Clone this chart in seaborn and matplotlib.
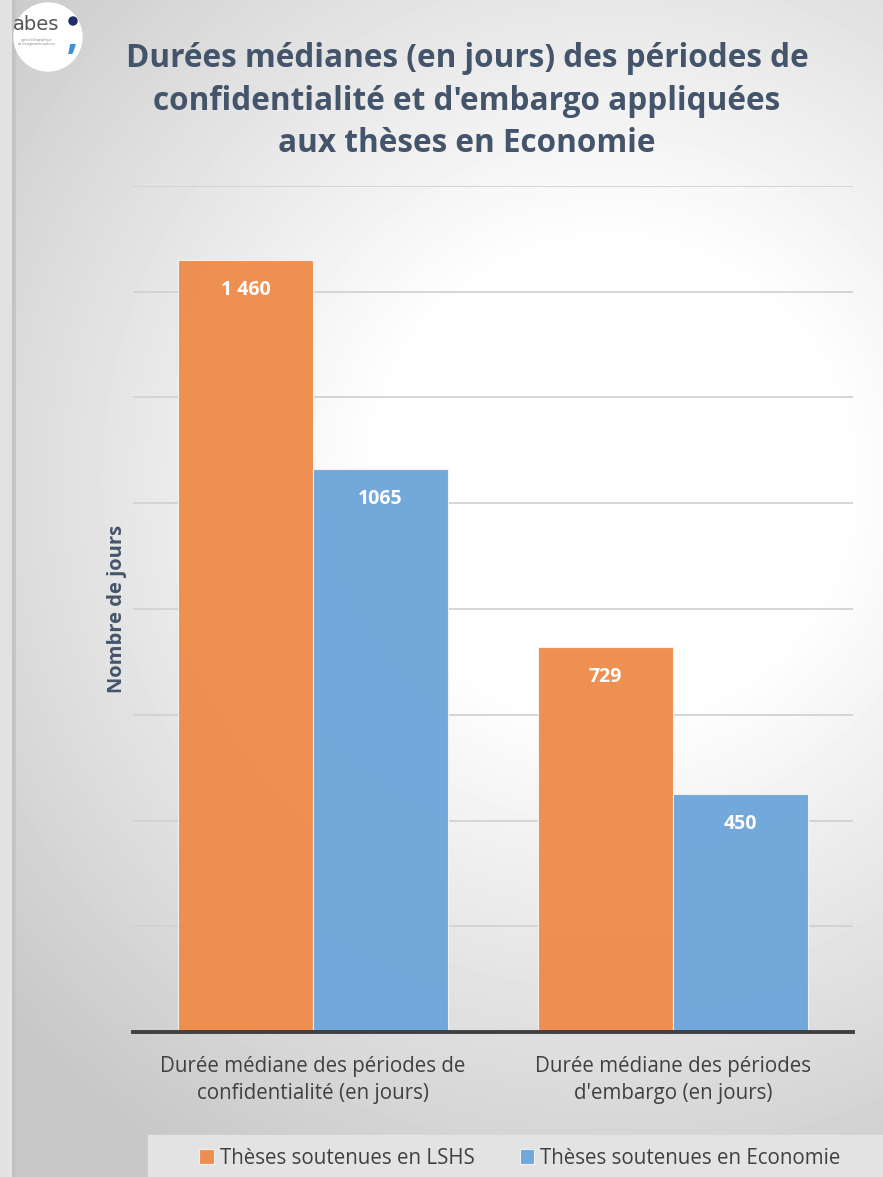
import numpy as np
import pandas as pd
import matplotlib
matplotlib.use("Agg")
import matplotlib.pyplot as plt
from matplotlib.patches import Circle, Rectangle
import seaborn as sns

# data
categories = [
    "Durée médiane des périodes de\nconfidentialité (en jours)",
    "Durée médiane des périodes\nd'embargo (en jours)",
]
series_names = ["Thèses soutenues en LSHS", "Thèses soutenues en Economie"]
lshs_days = [1460, 729]
eco_days = [1065, 450]
lshs_labels = ["1 460", "729"]
eco_labels = ["1065", "450"]

title = ("Durées médianes (en jours) des périodes de\n"
         "confidentialité et d'embargo appliquées\n"
         "aux thèses en Economie")

ORANGE = "#EE8C4A"
BLUE = "#6DA5DA"
SLATE = "#44546A"
TEXT = "#404040"

W, H = 883, 1177

sns.set_theme(style="white")
plt.rcParams['font.family'] = ['Open Sans', 'DejaVu Sans']

fig = plt.figure(figsize=(W / 100, H / 100), dpi=100)

# background: radial grey gradient, pixel coordinates
bg = fig.add_axes([0, 0, 1, 1])
yy, xx = np.mgrid[0:H, 0:W]
d = np.hypot(xx - 610, yy - 480)
shade = 1 - 0.22 * np.clip((d - 230) / 580, 0, 1)
bg.imshow(shade, cmap="gray", vmin=0, vmax=1, extent=(0, W, H, 0),
          aspect="auto", interpolation="bilinear")
bg.set_xlim(0, W)
bg.set_ylim(H, 0)
bg.axis("off")

# left frame strip
bg.add_patch(Rectangle((0, 0), 12, H, color="#E2E2E2", zorder=2))
bg.plot([12.5, 12.5], [0, H], color="#BDBDBD", lw=1.2, zorder=3)
bg.plot([15, 15], [0, H], color="#C4C4C4", lw=1.2, zorder=3)

# logo
bg.add_patch(Circle((48, 37), 34, color="white", zorder=3))
bg.text(36, 25, "abes", fontsize=14, color="#555555", ha="center",
        va="center", family="Liberation Sans Narrow", zorder=4)
bg.text(36, 42, "agence bibliographique\nde l'enseignement supérieur",
        fontsize=2, color="#777777", ha="center", va="center", zorder=4)
bg.add_patch(Circle((73, 21), 4, color="#1F2D6B", zorder=4))
bg.text(72, 38, ",", fontsize=28, fontweight="bold", color="#3C8FD8",
        ha="center", va="center", zorder=4)

# legend band
bg.add_patch(Rectangle((148, 1135), W - 148, 42, color="#E3E3E3", zorder=2))

# main plot
ax = fig.add_axes([133 / W, 1 - 1032 / H, 720 / W, (1032 - 186) / H])
ax.set_facecolor("none")

df = pd.DataFrame({
    "categorie": categories * 2,
    "jours": lshs_days + eco_days,
    "serie": [series_names[0]] * 2 + [series_names[1]] * 2,
})

sns.barplot(data=df, x="categorie", y="jours", hue="serie",
            palette=[ORANGE, BLUE], saturation=1, width=0.75, gap=0, ax=ax,
            edgecolor="#F4F4F4", linewidth=0.8, alpha=0.96, zorder=2)

for cont, labels in zip(ax.containers, [lshs_labels, eco_labels]):
    ax.bar_label(cont, labels=labels, padding=-29, color="white",
                 fontsize=14, fontweight="bold")

ax.set_xlim(-0.5, 1.5)
ax.set_ylim(0, 1600)
ax.set_yticks(np.arange(0, 1601, 200))
ax.set_yticklabels([])
ax.yaxis.grid(True, color="#D2D2D2", lw=1.3, zorder=0)
ax.set_axisbelow(True)
ax.tick_params(axis="both", length=0)
ax.tick_params(axis="x", pad=17, labelsize=14.8, labelcolor=TEXT)
for lab in ax.get_xticklabels():
    lab.set_multialignment("center")
    lab.set_linespacing(1.4)

for side in ["top", "right", "left"]:
    ax.spines[side].set_visible(False)
ax.spines["bottom"].set_color(TEXT)
ax.spines["bottom"].set_linewidth(2.8)

ax.set_xlabel("")
ax.set_ylabel("Nombre de jours", fontsize=14.5, fontweight="bold",
              color=SLATE)
ax.yaxis.set_label_coords(-6 / 720, 0.5)

handles, labels = ax.get_legend_handles_labels()
ax.get_legend().remove()
fig.legend(handles, labels, ncol=2, loc="center",
           bbox_to_anchor=(520 / W, 1 - 1158 / H), frameon=False,
           handlelength=0.7, handleheight=0.7, handletextpad=0.3,
           columnspacing=2.2, fontsize=14.8, labelcolor=TEXT)

fig.text(467 / W, 1 - 101 / H, title, ha="center", va="center",
         fontsize=22.7, fontweight="bold", color=SLATE, linespacing=1.38)

fig.savefig("out.png", dpi=100)
